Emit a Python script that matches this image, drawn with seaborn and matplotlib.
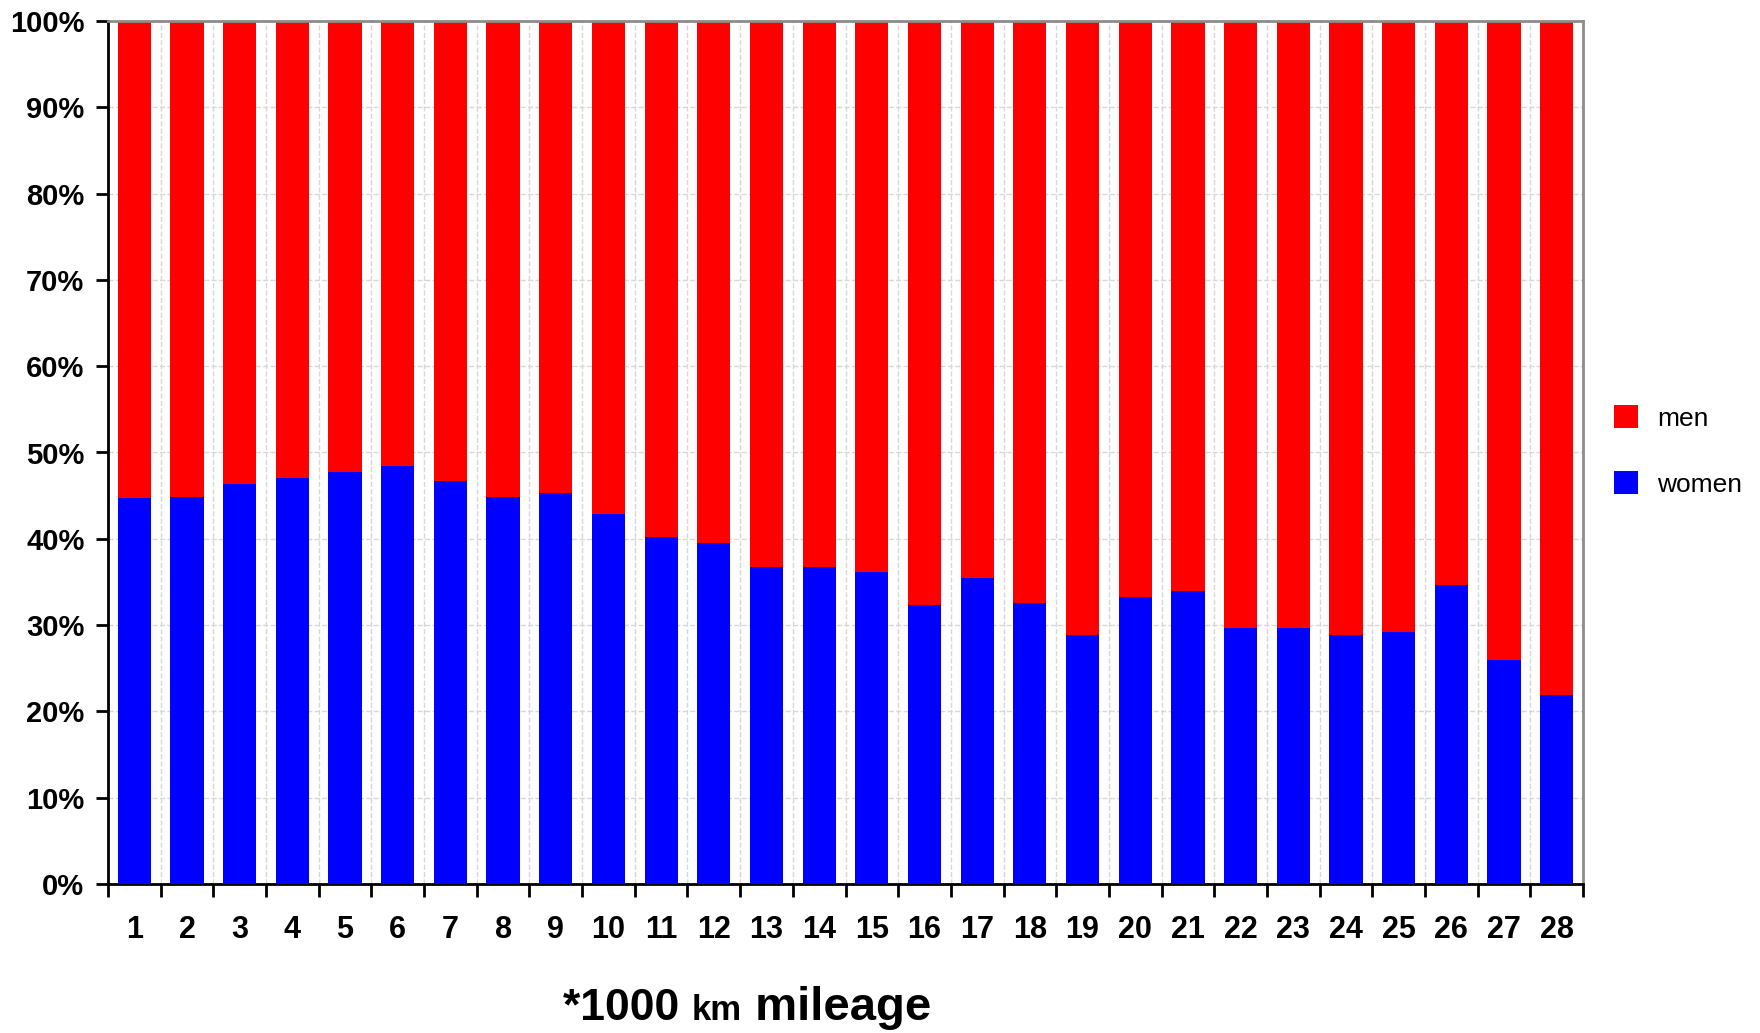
import matplotlib
matplotlib.use("Agg")
import matplotlib.pyplot as plt
import seaborn as sns
import pandas as pd
import numpy as np
from matplotlib.patches import Patch
from matplotlib.ticker import FixedLocator, PercentFormatter

# mileage classes (*1000 km)
mileage = [str(i) for i in range(1, 29)]
# share of women per mileage class, in percent
women = [44.7, 44.9, 46.4, 47.1, 47.7, 48.4, 46.7, 44.9, 45.3, 42.9,
         40.2, 39.5, 36.7, 36.7, 36.2, 32.3, 35.5, 32.6, 28.9, 33.3,
         34.0, 29.7, 29.7, 28.9, 29.2, 34.6, 26.0, 21.9]
# share of men per mileage class, in percent
men = [100 - w for w in women]

df = pd.DataFrame({"mileage": mileage, "women": women, "men": men})
df["total"] = df["women"] + df["men"]

sns.set_theme(style="white")
plt.rcParams["font.family"] = ["Liberation Sans", "DejaVu Sans"]
plt.rcParams["text.color"] = "black"
plt.rcParams["xtick.labelcolor"] = "black"
plt.rcParams["ytick.labelcolor"] = "black"

fig = plt.figure(figsize=(17.6, 10.33), dpi=100)
ax = fig.add_axes([108 / 1760, 1 - 884 / 1033, (1583 - 108) / 1760, (884 - 21) / 1033])

red = "#ff0000"
blue = "#0000ff"
bar_w = 0.63

# stacked 100% bars: full column in red, women portion in blue on top of it
sns.barplot(data=df, x="mileage", y="total", order=mileage, color=red,
            saturation=1, width=bar_w, ax=ax, zorder=2, linewidth=0)
sns.barplot(data=df, x="mileage", y="women", order=mileage, color=blue,
            saturation=1, width=bar_w, ax=ax, zorder=3, linewidth=0)

ax.set_xlim(-0.5, len(mileage) - 0.5)
ax.set_ylim(0, 100)
ax.set_xlabel("")
ax.set_ylabel("")

# y axis in percent
ax.set_yticks(np.arange(0, 101, 10))
ax.yaxis.set_major_formatter(PercentFormatter(decimals=0))
ax.tick_params(axis="y", which="major", length=9, width=2, color="black",
               direction="out", labelsize=21, pad=8, left=True)
for lbl in ax.get_yticklabels():
    lbl.set_fontweight("bold")

# category labels centered on bars, tick marks at slot boundaries
ax.xaxis.set_minor_locator(FixedLocator(np.arange(-0.5, len(mileage), 1.0)))
ax.tick_params(axis="x", which="major", length=0, labelsize=22, pad=22)
ax.tick_params(axis="x", which="minor", length=9, width=2, color="black",
               direction="out", bottom=True)
for lbl in ax.get_xticklabels():
    lbl.set_fontweight("bold")

# light dashed grid
ax.grid(True, axis="y", which="major", color="#d8d8d8", linestyle="--", linewidth=1, zorder=0)
ax.grid(True, axis="x", which="minor", color="#d8d8d8", linestyle="--", linewidth=1, zorder=0)
ax.grid(False, axis="x", which="major")
ax.set_axisbelow(True)

for side in ["left", "bottom"]:
    ax.spines[side].set_color("black")
    ax.spines[side].set_linewidth(2)
for side in ["top", "right"]:
    ax.spines[side].set_color("#8c8c8c")
    ax.spines[side].set_linewidth(2)
    ax.spines[side].set_visible(True)

# legend to the right of the plot
handles = [Patch(facecolor=red, edgecolor="none", label="men"),
           Patch(facecolor=blue, edgecolor="none", label="women")]
fig.legend(handles=handles, loc="center left",
           bbox_to_anchor=(1614 / 1760, 1 - 451 / 1033),
           frameon=False, fontsize=19, handlelength=0.9, handleheight=0.95,
           handletextpad=0.75, labelspacing=1.55, borderpad=0,
           borderaxespad=0, labelcolor="black")

# axis caption with a smaller unit
fig.canvas.draw()
renderer = fig.canvas.get_renderer()
parts = [("*1000 ", 32, "bold"), ("km", 25, "bold"), (" mileage", 34, "bold")]
texts = []
for s, size, weight in parts:
    t = fig.text(0, 1 - 1020 / 1033, s, fontsize=size, fontweight=weight,
                 ha="left", va="baseline", color="black")
    texts.append(t)
widths = [t.get_window_extent(renderer).width for t in texts]
total_w = sum(widths)
start = 747 - total_w / 2
for t, w in zip(texts, widths):
    t.set_x(start / 1760)
    start += w

fig.savefig("out.png", dpi=100)
